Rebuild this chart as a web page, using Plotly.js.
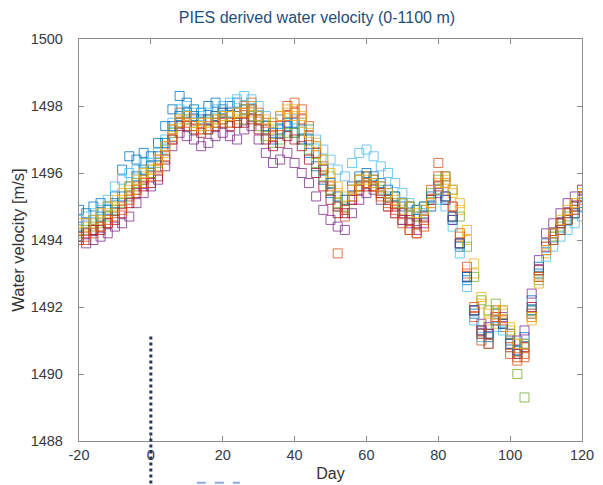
<!DOCTYPE html>
<html><head><meta charset="utf-8">
<script src="https://cdn.plot.ly/plotly-3.0.1.min.js"></script>
<style>html,body{margin:0;padding:0;background:#fff}#chart{width:603px;height:485px}</style>
</head><body><div id="chart"></div>
<script>
const days = [-20,-18,-16,-14,-12,-10,-8,-6,-4,-2,0,2,4,6,8,10,12,14,16,18,20,22,24,26,28,30,32,34,36,38,40,42,44,46,48,50,52,54,56,58,60,62,64,66,68,70,72,74,76,78,80,82,84,86,88,90,92,94,96,98,100,102,104,106,108,110,112,114,116,118,120];

const s1 = [1494.9,1494.8,1495.0,1495.1,1495.0,1495.3,1496.1,1496.5,1496.4,1496.6,1496.5,1496.9,1497.4,1497.9,1498.3,1498.1,1497.9,1497.8,1498.0,1498.1,1497.9,1498.0,1498.1,1497.9,1498.0,1497.6,1497.3,1497.0,1497.2,1497.4,1497.2,1497.0,1496.6,1496.2,1495.8,1495.4,1495.0,1494.9,1495.5,1495.8,1495.9,1495.7,1495.6,1495.4,1495.1,1495.0,1494.8,1494.7,1494.9,1495.2,1495.5,1495.2,1494.6,1493.8,1492.8,1491.8,1491.3,1491.2,1491.8,1491.5,1491.0,1490.7,1491.1,1492.2,1493.2,1493.9,1494.2,1494.5,1494.6,1494.9,1495.1];
const s2 = [1494.1,1494.0,1494.3,1494.4,1494.5,1494.8,1495.0,1495.3,1495.6,1495.8,1496.0,1496.4,1496.8,1497.3,1497.8,1497.7,1497.6,1497.5,1497.6,1497.7,1497.8,1497.7,1497.8,1498.0,1498.1,1497.8,1497.5,1497.4,1497.7,1498.0,1498.1,1497.9,1497.4,1496.8,1496.2,1495.5,1493.6,1494.7,1495.2,1495.6,1495.9,1495.8,1495.4,1495.1,1494.9,1494.6,1494.3,1494.2,1494.6,1495.5,1496.3,1495.9,1495.0,1494.1,1493.0,1491.7,1491.0,1490.9,1491.9,1491.4,1490.6,1490.4,1490.5,1491.7,1492.9,1493.7,1494.0,1494.3,1494.6,1494.8,1495.2];
const s3 = [1494.3,1494.4,1494.5,1494.6,1494.8,1495.0,1495.2,1495.5,1495.5,1495.9,1496.1,1496.2,1496.6,1497.1,1497.5,1497.6,1497.4,1497.3,1497.5,1497.6,1497.7,1497.5,1497.6,1497.8,1497.8,1497.6,1497.4,1497.3,1497.6,1497.8,1497.9,1497.7,1497.3,1496.9,1496.4,1495.9,1495.4,1495.2,1495.5,1495.8,1495.9,1495.6,1495.4,1495.2,1495.1,1494.9,1494.8,1494.7,1494.8,1495.2,1495.7,1495.8,1495.4,1494.9,1494.0,1493.0,1492.1,1491.6,1491.5,1491.8,1491.3,1490.9,1490.8,1491.6,1492.7,1493.6,1494.1,1494.5,1494.8,1495.1,1495.5];
const s4 = [1494.0,1493.9,1494.0,1494.1,1494.2,1494.4,1494.5,1494.7,1495.1,1495.4,1495.6,1495.8,1496.2,1496.8,1497.2,1497.1,1497.0,1496.8,1496.9,1497.1,1497.2,1497.1,1497.0,1497.3,1497.4,1497.0,1496.6,1496.3,1496.4,1496.6,1496.3,1496.0,1495.7,1495.3,1494.9,1494.6,1494.4,1494.3,1494.8,1495.2,1495.4,1495.5,1495.2,1495.0,1494.8,1494.6,1494.5,1494.3,1494.5,1495.0,1495.4,1495.2,1494.6,1493.9,1492.9,1491.9,1491.5,1491.4,1491.7,1491.7,1491.2,1491.0,1491.3,1492.4,1493.4,1494.2,1494.5,1494.8,1495.1,1495.3,1495.5];
const s5 = [1494.2,1494.3,1494.4,1494.5,1494.7,1494.9,1495.1,1495.4,1495.7,1495.8,1496.0,1496.3,1496.7,1497.2,1497.5,1497.6,1497.5,1497.4,1497.3,1497.5,1497.6,1497.7,1497.5,1497.6,1497.7,1497.4,1497.1,1496.9,1497.0,1497.2,1497.2,1497.0,1496.7,1496.3,1495.9,1495.5,1495.1,1495.0,1495.3,1495.6,1495.7,1495.8,1495.5,1495.3,1495.3,1495.1,1495.0,1494.9,1495.0,1495.4,1495.8,1495.9,1495.5,1494.7,1493.8,1492.9,1492.2,1491.9,1492.1,1491.9,1491.2,1490.0,1489.3,1491.9,1492.9,1493.7,1494.1,1494.4,1494.7,1495.0,1495.3];
const s6 = [1494.6,1494.7,1494.8,1494.9,1495.2,1495.6,1495.8,1496.0,1496.1,1496.3,1496.3,1496.6,1497.0,1497.5,1497.9,1498.0,1497.8,1497.7,1497.8,1497.9,1498.0,1498.1,1498.2,1498.3,1498.2,1498.0,1497.7,1497.5,1497.6,1497.5,1497.6,1497.5,1497.3,1497.0,1496.7,1496.4,1496.1,1495.9,1496.3,1496.6,1496.7,1496.5,1496.2,1496.0,1495.7,1495.4,1495.1,1494.9,1494.8,1495.0,1495.2,1495.0,1494.4,1493.6,1492.6,1491.6,1491.1,1490.9,1491.4,1491.3,1490.8,1490.6,1490.9,1491.8,1492.8,1493.5,1493.8,1494.1,1494.3,1494.5,1494.7];
const s7 = [1494.1,1494.2,1494.3,1494.3,1494.5,1494.6,1494.8,1495.1,1495.4,1495.6,1495.7,1495.9,1496.4,1497.0,1497.4,1497.4,1497.3,1497.2,1497.3,1497.4,1497.5,1497.4,1497.5,1497.5,1497.6,1497.3,1497.0,1496.8,1496.9,1497.1,1497.0,1496.8,1496.4,1496.0,1495.6,1495.2,1494.8,1494.8,1495.2,1495.5,1495.6,1495.6,1495.4,1495.2,1495.0,1494.8,1494.6,1494.5,1494.7,1495.2,1495.6,1495.3,1494.7,1493.9,1492.9,1491.9,1491.3,1491.2,1491.6,1491.5,1490.9,1490.6,1490.8,1492.0,1493.1,1493.8,1494.2,1494.5,1494.8,1495.0,1495.3];
const s8 = [1494.4,1494.5,1494.6,1494.7,1494.9,1495.1,1495.3,1495.6,1495.9,1496.1,1496.2,1496.5,1496.9,1497.4,1497.7,1497.8,1497.7,1497.6,1497.6,1497.7,1497.8,1497.8,1497.7,1497.9,1497.9,1497.7,1497.4,1497.2,1497.3,1497.5,1497.5,1497.3,1497.0,1496.6,1496.1,1495.7,1495.3,1495.2,1495.6,1495.9,1496.0,1495.9,1495.7,1495.5,1495.3,1495.1,1495.0,1494.9,1495.0,1495.3,1495.5,1495.3,1494.7,1493.9,1492.9,1491.9,1491.2,1491.1,1491.6,1491.5,1490.9,1490.7,1490.9,1491.9,1493.0,1493.7,1494.0,1494.3,1494.6,1494.8,1495.0];
const s9 = [1494.0,1494.1,1494.2,1494.4,1494.6,1494.7,1494.9,1495.2,1495.5,1495.7,1495.9,1496.1,1496.5,1497.0,1497.5,1497.5,1497.4,1497.3,1497.4,1497.5,1497.6,1497.5,1497.7,1497.8,1497.9,1497.6,1497.3,1497.1,1497.4,1497.7,1497.8,1497.6,1497.1,1496.6,1496.1,1495.6,1495.0,1494.9,1495.3,1495.6,1495.7,1495.6,1495.3,1495.0,1494.8,1494.5,1494.3,1494.2,1494.4,1495.1,1495.9,1495.7,1495.0,1494.2,1493.2,1492.0,1491.2,1490.9,1491.7,1491.6,1490.8,1490.5,1490.6,1491.8,1492.9,1493.7,1494.0,1494.3,1494.6,1494.9,1495.3];
const s10 = [1494.5,1494.5,1494.6,1494.8,1495.0,1495.2,1495.4,1495.6,1495.8,1496.0,1496.1,1496.4,1496.8,1497.3,1497.6,1497.7,1497.5,1497.4,1497.5,1497.6,1497.7,1497.7,1497.8,1497.9,1498.0,1497.7,1497.6,1497.5,1497.7,1497.9,1497.7,1497.5,1497.2,1496.8,1496.4,1496.0,1495.6,1495.3,1495.5,1495.8,1495.8,1495.7,1495.6,1495.4,1495.2,1495.1,1495.0,1494.8,1494.9,1495.1,1495.5,1495.7,1495.5,1495.1,1494.3,1493.3,1492.3,1491.8,1491.6,1491.9,1491.4,1490.9,1490.9,1491.7,1492.8,1493.7,1494.2,1494.6,1494.9,1495.1,1495.4];

const seriesList = [s1, s2, s3, s4, s5, s6, s7, s8, s9, s10];
const colors = ['#0072BD','#D95319','#EDB120','#7E2F8E','#77AC30','#4DBEEE','#A2142F','#0072BD','#D95319','#EDB120'];

const xTicks = [-20, 0, 20, 40, 60, 80, 100, 120];
const yTicks = [1488, 1490, 1492, 1494, 1496, 1498, 1500];

const FONT = 'Liberation Sans, Arial, sans-serif';

const traces = seriesList.map((s, i) => ({
  type: 'scatter', mode: 'markers', x: days, y: s,
  marker: {symbol: 'square-open', size: 9, color: colors[i], opacity: 0.8, line: {width: 1, color: colors[i]}},
  showlegend: false, hoverinfo: 'skip'
}));

const layout = {
  width: 603, height: 485,
  margin: {l: 79, r: 21, t: 39, b: 44},
  paper_bgcolor: '#fff', plot_bgcolor: '#fff',
  font: {family: FONT, size: 14.5, color: '#3a3a3a'},
  title: {text: 'PIES derived water velocity (0-1100 m)', font: {family: FONT, size: 16, color: '#1F4E79'},
          x: 0.473, xref: 'paper', xanchor: 'center', y: 0.965, yref: 'container', yanchor: 'middle'},
  xaxis: {range: [-20, 120], tickvals: xTicks, ticktext: xTicks.map(String), ticks: 'inside', ticklen: 5,
          tickcolor: '#8c8c8c', showline: true, linecolor: '#8c8c8c', linewidth: 1.2, mirror: 'ticks',
          showgrid: false, zeroline: false, ticklabelstandoff: 0,
          tickfont: {family: FONT, size: 14.5, color: '#3a3a3a'},
          title: {text: 'Day', font: {family: FONT, size: 16, color: '#333'}, standoff: 6}},
  yaxis: {range: [1488, 1500], tickvals: yTicks, ticktext: yTicks.map(String), ticks: 'inside', ticklen: 5,
          tickcolor: '#8c8c8c', showline: true, linecolor: '#8c8c8c', linewidth: 1.2, mirror: 'ticks',
          showgrid: false, zeroline: false, ticklabelstandoff: 12,
          tickfont: {family: FONT, size: 14.5, color: '#3a3a3a'},
          title: {text: 'Water velocity [m/s]', font: {family: FONT, size: 16.5, color: '#333'}, standoff: 1}},
  shapes: [
    {type: 'line', xref: 'x', yref: 'paper', x0: 0, x1: 0, y0: 0.26, y1: -0.11,
     line: {color: '#1F3864', width: 3, dash: 'dot'}},
    {type: 'line', xref: 'x', yref: 'paper', x0: 12.8, x1: 24.8, y0: -0.104, y1: -0.104,
     line: {color: '#8FAADC', width: 2, dash: 'dash'}}
  ]
};

Plotly.newPlot('chart', traces, layout, {displayModeBar: false, staticPlot: true});
</script>
</body></html>
